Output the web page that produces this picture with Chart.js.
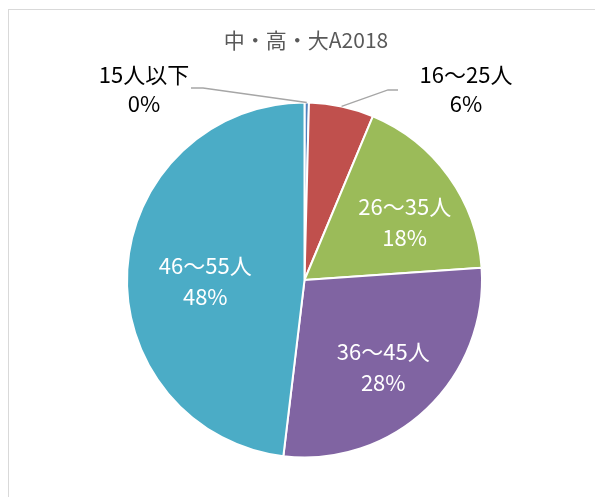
<!DOCTYPE html>
<html>
<head>
<meta charset="utf-8">
<script src="https://cdn.jsdelivr.net/npm/chart.js@4/dist/chart.umd.min.js"></script>
<style>
  body { margin: 0; background: #fff; }
  #wrap { width: 595px; height: 497px; position: relative; }
</style>
</head>
<body>
<div id="wrap"><canvas id="myChart" width="595" height="497"></canvas></div>
<script>
// data (share of classes, %)
var categories = ["15人以下", "16～25人", "26～35人", "36～45人", "46～55人"];
var shares = [0.4, 5.9, 17.6, 28.0, 48.1];
var sliceColors = ['#4F81BD', '#C0504D', '#9BBB59', '#8064A2', '#4BACC6'];
var chartTitle = "中・高・大A2018";

var FONT = '"Noto Sans CJK JP", "Noto Sans", sans-serif';

// label placement: inside fraction of radius (+ nudge), or null for outside with leader
var insideFrac = [null, null, 0.66, 0.66, 0.56];
var insideNudge = [[0, 0], [0, 0], [5, 10], [-2, 2], [0, 7]];
var outsideAnchor = [[144, 75], [466, 75]];
var leaderBend = [[203, 88], [388, 90]];
var leaderEnd = [[191, 88], [398, 90]];

function pct(v){
  var total = shares.reduce((a, b)=> a + b, 0);
  return Math.round(v / total * 100) + "%";
}

var labelPlugin = {
  id: 'excelLabels',
  afterDraw(chart){
    var ctx = chart.ctx;
    ctx.save();
    // frame
    ctx.strokeStyle = '#d9d9d9';
    ctx.lineWidth = 1;
    ctx.strokeRect(8.5, 9.5, 700, 600);
    // title
    ctx.fillStyle = '#595959';
    ctx.font = '21px ' + FONT;
    ctx.textAlign = 'center';
    ctx.textBaseline = 'middle';
    ctx.fillText(chartTitle, 306, 40);

    var arcs = chart.getDatasetMeta(0).data;
    ctx.font = '22px ' + FONT;
    arcs.forEach((arc, i)=>{
      var mid = (arc.startAngle + arc.endAngle) / 2;
      var r = arc.outerRadius;
      if (insideFrac[i] != null){
        var x = arc.x + Math.cos(mid) * r * insideFrac[i] + insideNudge[i][0];
        var y = arc.y + Math.sin(mid) * r * insideFrac[i] + insideNudge[i][1];
        ctx.fillStyle = '#fff';
        ctx.fillText(categories[i], x, y - 15);
        ctx.fillText(pct(shares[i]), x, y + 16);
      } else {
        var ex = arc.x + Math.cos(mid) * r;
        var ey = arc.y + Math.sin(mid) * r;
        ctx.strokeStyle = '#a6a6a6';
        ctx.lineWidth = 1.3;
        ctx.beginPath();
        ctx.moveTo(ex, ey);
        ctx.lineTo(leaderBend[i][0], leaderBend[i][1]);
        ctx.lineTo(leaderEnd[i][0], leaderEnd[i][1]);
        ctx.stroke();
        ctx.fillStyle = '#000';
        ctx.fillText(categories[i], outsideAnchor[i][0], outsideAnchor[i][1]);
        ctx.fillText(pct(shares[i]), outsideAnchor[i][0], outsideAnchor[i][1] + 29);
      }
    });
    ctx.restore();
  }
};

var myChart = new Chart(document.getElementById('myChart').getContext('2d'), {
  type: 'pie',
  data: {
    labels: categories,
    datasets: [{
      data: shares,
      backgroundColor: sliceColors,
      borderColor: '#fff',
      borderWidth: 2
    }]
  },
  options: {
    responsive: false,
    maintainAspectRatio: false,
    animation: false,
    layout: { padding: { top: 101, bottom: 38, left: 126, right: 112 } },
    plugins: {
      legend: { display: false },
      title: { display: false },
      tooltip: { enabled: false }
    }
  },
  plugins: [labelPlugin]
});
</script>
</body>
</html>
